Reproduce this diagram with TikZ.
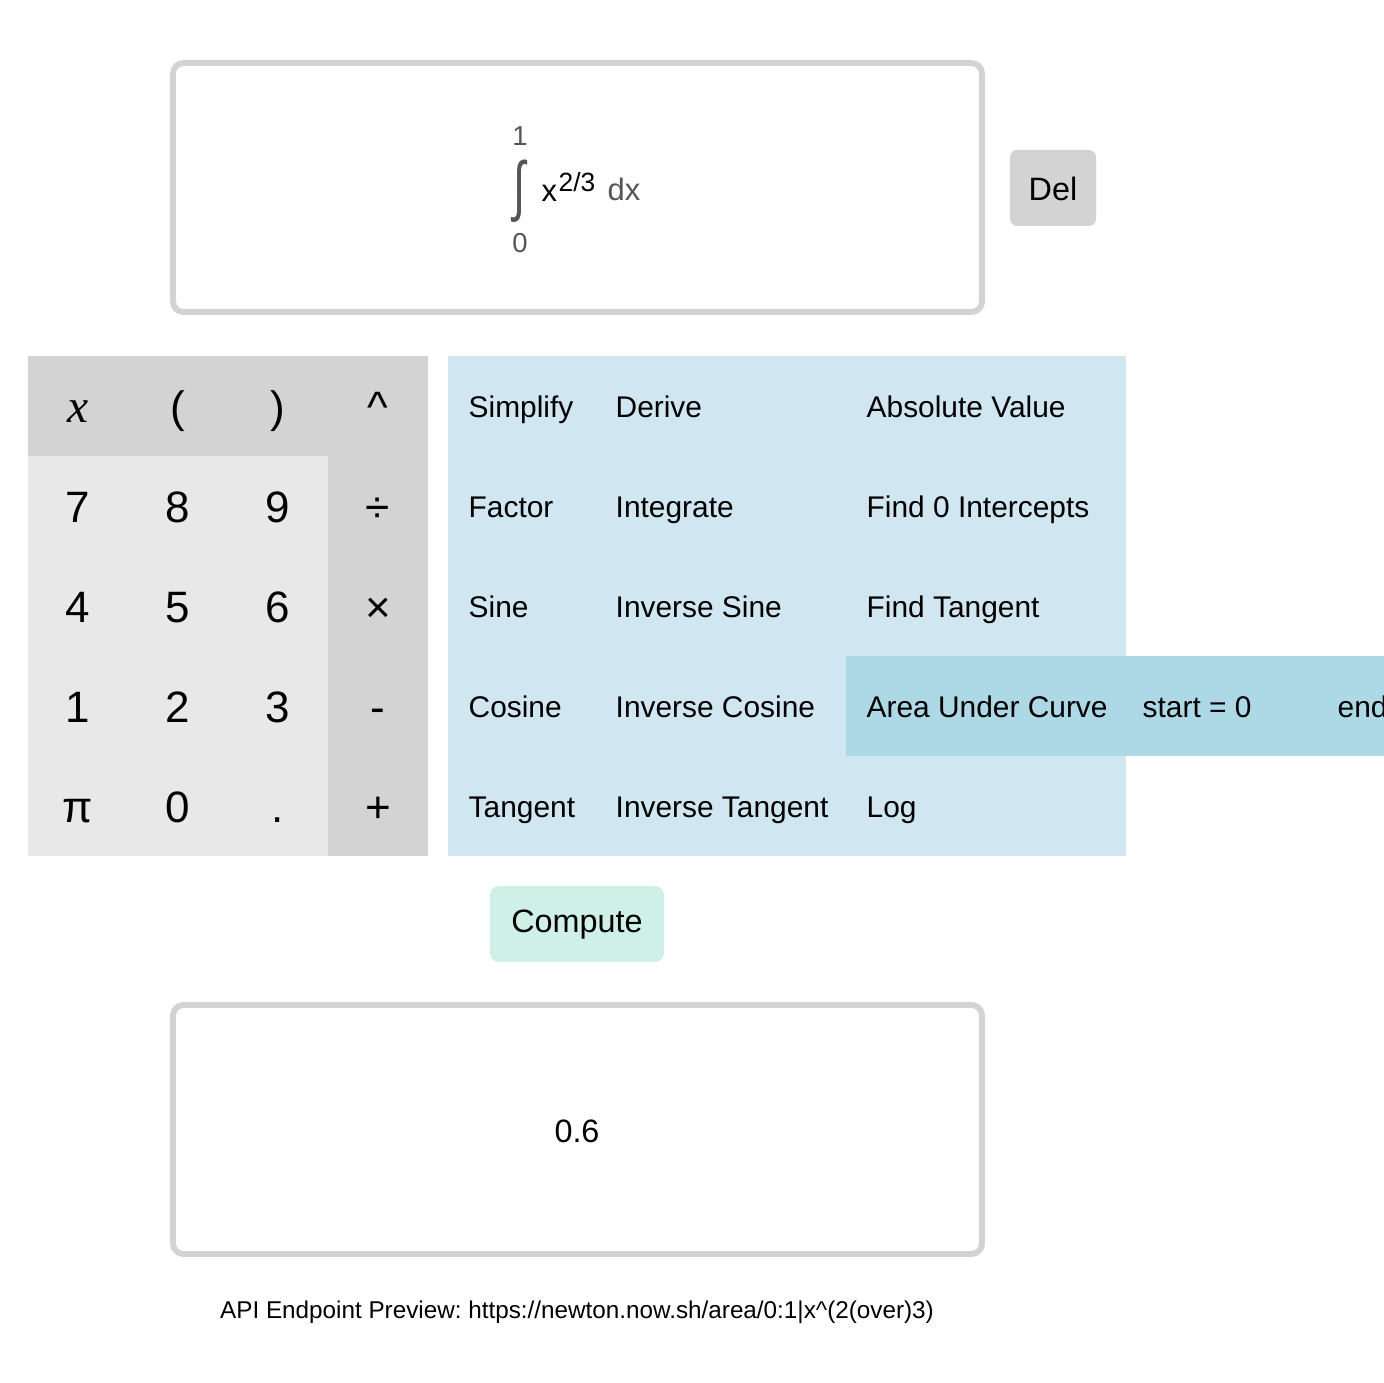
\documentclass[tikz,border=0pt]{standalone}
\usepackage{fontspec}
\setmainfont{Liberation Sans}
\newfontfamily\varfont{Liberation Serif}
\frenchspacing
\definecolor{boxgray}{HTML}{D3D3D3}
\definecolor{keylight}{HTML}{E8E8E8}
\definecolor{panelblue}{HTML}{D0E6F0}
\definecolor{pickblue}{HTML}{ADD8E6}
\definecolor{gobtn}{HTML}{CFF0E6}
\definecolor{limgray}{HTML}{555555}
\tikzset{
  iobox/.style={draw=boxgray, line width=1.7pt, rounded corners=3pt},
  key/.style={anchor=base, inner sep=0pt, font=\fontsize{12.5pt}{15pt}\selectfont},
  func/.style={anchor=base west, inner sep=0pt, font=\fontsize{8.5pt}{10pt}\selectfont},
  btn/.style={inner sep=0pt, font=\fontsize{9.2pt}{11pt}\selectfont},
  lim/.style={inner sep=0pt, text=limgray, font=\fontsize{7.8pt}{9pt}\selectfont}
}
\begin{document}
\begin{tikzpicture}[x=0.01cm,y=-0.01cm]
  \useasboundingbox (0,0) rectangle (1384,1383);
  \clip (0,0) rectangle (1384,1383);
  % input box
  \draw[iobox] (173,63) rectangle (982,312);
  \node[lim] (up) at (520,136) {1};
  \node[inner sep=0pt, text=limgray, yscale=1.5, font=\fontsize{12.5pt}{14pt}\selectfont] (int) at (520,191) {∫};
  \node[lim] (lo) at (520,243) {0};
  \node[anchor=base west, inner sep=0pt, font=\fontsize{8.8pt}{10pt}\selectfont] (fx) at (541,202) {x};
  \node[anchor=base west, inner sep=0pt, font=\fontsize{7.5pt}{9pt}\selectfont] (pw) at ([yshift=3.1pt]fx.base east) {2/3};
  \node[anchor=base west, inner sep=0pt, text=limgray, font=\fontsize{8.8pt}{10pt}\selectfont] (dx) at (607,201) {dx};
  \fill[boxgray, rounded corners=2pt] (1010,150) rectangle (1096,226);
  \node[btn] (del) at (1053,189) {Del};
  % keypad
  \fill[keylight] (28,356) rectangle (428,856);
  \fill[boxgray] (28,356) rectangle (428,456);
  \fill[boxgray] (328,356) rectangle (428,856);
  \foreach \lbl/\c/\r in {{\varfont\itshape\fontsize{13.5pt}{15pt}\selectfont x}/0/0, {(}/1/0, {)}/2/0, {\^{}}/3/0,
      7/0/1, 8/1/1, 9/2/1, ÷/3/1,
      4/0/2, 5/1/2, 6/2/2, ×/3/2,
      1/0/3, 2/1/3, 3/2/3, -/3/3,
      π/0/4, 0/1/4, ./2/4, +/3/4}
    \node[key] (key-\c-\r) at (78+100*\c, 423+100*\r) {\lbl};
  % functions
  \fill[panelblue] (448,356) rectangle (1126,856);
  \fill[pickblue] (846,656) rectangle (1384,756);
  \foreach \lbl/\c/\r in {Simplify/468/0, Derive/615/0, Absolute Value/866/0,
      Factor/468/1, Integrate/615/1, Find 0 Intercepts/866/1,
      Sine/468/2, Inverse Sine/615/2, Find Tangent/866/2,
      Cosine/468/3, Inverse Cosine/615/3, Area Under Curve/866/3,
      Tangent/468/4, Inverse Tangent/615/4, Log/866/4}
    \node[func] (fn-\c-\r) at (\c, 418+100*\r) {\lbl};
  \node[func] (start) at (1142,718) {start = 0};
  \node[func] (end) at (1337,718) {end};
  % compute
  \fill[gobtn, rounded corners=2.5pt] (490,886) rectangle (664,962);
  \node[btn] (go) at (577,925) {Compute};
  % output box
  \draw[iobox] (173,1005) rectangle (982,1254);
  \node[btn] (out) at (577,1131) {0.6};
  \node[inner sep=0pt, font=\fontsize{6.9pt}{8pt}\selectfont] (api) at (577,1312) {API Endpoint Preview: https://newton.now.sh/area/0:1|x\^{}(2(over)3)};
\end{tikzpicture}
\end{document}
